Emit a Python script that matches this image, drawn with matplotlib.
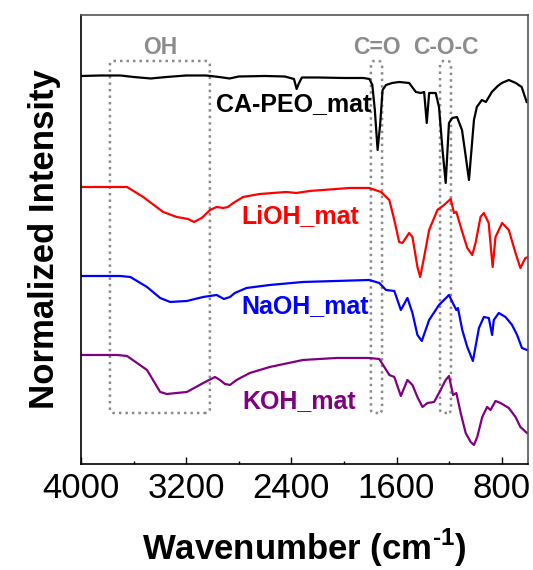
import matplotlib.pyplot as plt
from matplotlib.patches import FancyBboxPatch
from matplotlib.ticker import MultipleLocator

plt.rcParams['font.family'] = ['Liberation Sans', 'DejaVu Sans']
plt.rcParams['mathtext.fontset'] = 'custom'
plt.rcParams['mathtext.bf'] = 'Liberation Sans:bold'
plt.rcParams['mathtext.rm'] = 'Liberation Sans:bold'

# FTIR spectra, normalized and stacked
wn_capeo = [4000, 3850, 3700, 3600, 3470, 3350, 3200, 3050, 2950, 2870, 2800, 2600,
            2450, 2380, 2360, 2345, 2320, 2200, 2000, 1850, 1807, 1784, 1765, 1744,
            1725, 1706, 1680, 1633, 1580, 1504, 1453, 1415, 1390, 1370, 1352, 1302,
            1277, 1250, 1226, 1201, 1176, 1140, 1102, 1075, 1049, 1030, 1011, 989,
            951, 920, 875, 830, 799, 746, 693, 648, 610]
int_capeo = [3.88, 3.885, 3.885, 3.87, 3.855, 3.87, 3.885, 3.885, 3.87, 3.855, 3.875, 3.88,
             3.875, 3.85, 3.75, 3.80, 3.865, 3.865, 3.86, 3.86, 3.85, 3.79, 3.54, 3.14,
             3.39, 3.74, 3.79, 3.81, 3.82, 3.81, 3.72, 3.71, 3.72, 3.41, 3.71, 3.71,
             3.57, 3.14, 2.81, 3.41, 3.46, 3.47, 3.34, 3.09, 2.84, 3.14, 3.44, 3.57,
             3.64, 3.62, 3.72, 3.78, 3.81, 3.84, 3.81, 3.77, 3.62]

wn_lioh = [4000, 3777, 3650, 3527, 3375, 3271, 3186, 3140, 3082, 3019, 2968, 2918,
           2883, 2842, 2767, 2640, 2438, 2362, 2261, 2059, 1958, 1807, 1718, 1655,
           1617, 1580, 1555, 1504, 1479, 1441, 1420, 1390, 1352, 1289, 1239, 1188,
           1163, 1145, 1100, 1062, 1024, 999, 961, 936, 899, 869, 847, 797,
           746, 695, 658, 620, 595]
int_lioh = [2.77, 2.77, 2.77, 2.67, 2.52, 2.47, 2.45, 2.42, 2.46, 2.54, 2.57, 2.56,
            2.57, 2.61, 2.67, 2.70, 2.72, 2.71, 2.73, 2.75, 2.76, 2.76, 2.72, 2.64,
            2.44, 2.22, 2.21, 2.31, 2.27, 1.97, 1.87, 2.07, 2.34, 2.54, 2.59, 2.65,
            2.51, 2.52, 2.32, 2.16, 2.09, 2.21, 2.47, 2.51, 2.41, 1.97, 2.27, 2.41,
            2.34, 2.11, 1.96, 2.06, 2.07]

wn_naoh = [4000, 3701, 3625, 3498, 3398, 3322, 3195, 3070, 2968, 2913, 2867, 2830,
           2741, 2564, 2312, 2059, 1807, 1731, 1680, 1617, 1567, 1517, 1479, 1441,
           1408, 1352, 1277, 1201, 1176, 1145, 1133, 1100, 1062, 1019, 973, 936,
           898, 873, 860, 822, 771, 721, 683, 646, 608]
int_naoh = [1.88, 1.88, 1.87, 1.77, 1.66, 1.62, 1.63, 1.67, 1.69, 1.65, 1.67, 1.71,
            1.76, 1.79, 1.82, 1.83, 1.84, 1.81, 1.74, 1.73, 1.54, 1.66, 1.51, 1.29,
            1.23, 1.44, 1.59, 1.69, 1.62, 1.54, 1.56, 1.34, 1.17, 1.03, 1.36, 1.47,
            1.46, 1.29, 1.44, 1.51, 1.47, 1.39, 1.29, 1.16, 1.14]

wn_koh = [4000, 3726, 3650, 3498, 3398, 3347, 3195, 3070, 2981, 2943, 2905, 2867,
          2817, 2716, 2564, 2312, 2059, 1807, 1731, 1693, 1655, 1617, 1567, 1517,
          1479, 1441, 1403, 1365, 1314, 1277, 1226, 1201, 1170, 1145, 1112, 1074,
          1036, 1011, 986, 948, 911, 885, 847, 809, 746, 695, 658, 608]
int_koh = [1.09, 1.09, 1.08, 0.94, 0.72, 0.70, 0.72, 0.81, 0.87, 0.84, 0.80, 0.79,
           0.84, 0.91, 0.97, 1.04, 1.06, 1.06, 1.05, 0.97, 0.89, 0.87, 0.68, 0.84,
           0.79, 0.67, 0.57, 0.61, 0.62, 0.71, 0.84, 0.88, 0.69, 0.71, 0.51, 0.31,
           0.22, 0.19, 0.27, 0.47, 0.57, 0.54, 0.63, 0.61, 0.56, 0.47, 0.37, 0.31]

names = ['CA-PEO_mat', 'LiOH_mat', 'NaOH_mat', 'KOH_mat']
colors = ['black', 'red', 'blue', 'purple']
label_pos = [(2973, 3.60), (2777, 2.48), (2777, 1.58), (2769, 0.63)]

# highlighted bands: (label, high wn, low wn)
bands = [('OH', 3780, 3020), ('C=O', 1795, 1710), ('C-O-C', 1269, 1186)]
band_top, band_bottom = 4.03, 0.51

fig = plt.figure(figsize=(5.33, 5.70), dpi=100)
ax = fig.add_axes([0.152, 0.186, 0.8386, 0.7877])

spectra = [(wn_capeo, int_capeo), (wn_lioh, int_lioh), (wn_naoh, int_naoh), (wn_koh, int_koh)]
for (x, y), c, name, (tx, ty) in zip(spectra, colors, names, label_pos):
    ax.plot(x, y, color=c, lw=1.6, solid_joinstyle='round')
    ax.text(tx, ty, name, color=c, fontsize=18, fontweight='bold', ha='left', va='center')

for lab, hi, lo in bands:
    box = FancyBboxPatch((lo, band_bottom), hi - lo, band_top - band_bottom,
                         boxstyle='round,pad=0,rounding_size=30', mutation_aspect=0.0013,
                         fill=False, edgecolor='#8c8c8c', lw=1.8, linestyle=(0, (1, 1.6)))
    ax.add_patch(box)
    ax.text((hi + lo) / 2, 4.16, lab, color='#8c8c8c', fontsize=16.5, fontweight='bold',
            ha='center', va='center')

ax.set_xlim(4000, 600)
ax.set_ylim(0, 4.49)
ax.xaxis.set_major_locator(MultipleLocator(800))
ax.xaxis.set_minor_locator(MultipleLocator(400))
ax.set_xticks([4000, 3200, 2400, 1600, 800])
ax.set_yticks([])
ax.tick_params(axis='x', which='major', direction='in', length=5, width=1, labelsize=25, pad=6)
ax.tick_params(axis='x', which='minor', direction='in', length=2.5, width=1)

for s in ['left', 'bottom']:
    ax.spines[s].set_linewidth(1.2)
    ax.spines[s].set_color('black')
for s in ['top', 'right']:
    ax.spines[s].set_linewidth(1.2)
    ax.spines[s].set_color('#555555')

ax.set_xlabel(r'Wavenumber (cm$^{\text{-1}}$)', fontsize=25, fontweight='bold')
ax.set_ylabel('Normalized Intensity', fontsize=25, fontweight='bold')
ax.xaxis.set_label_coords(0.5, -0.14)
ax.yaxis.set_label_coords(-0.045, 0.5)

fig.savefig('out.png', dpi=100)
